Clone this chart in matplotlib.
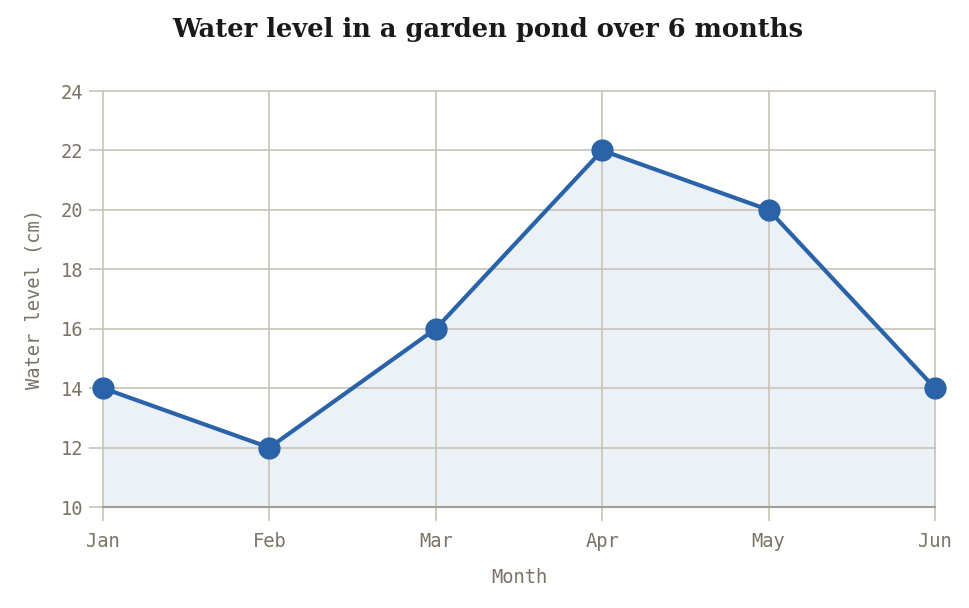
import matplotlib
matplotlib.use("Agg")
import matplotlib.pyplot as plt

months = ["Jan", "Feb", "Mar", "Apr", "May", "Jun"]
water_level = [14, 12, 16, 22, 20, 14]
y_ticks = [10, 12, 14, 16, 18, 20, 22, 24]

line_color = "#2a63a8"
fill_color = "#ecf1f6"
grid_color = "#c8c3ba"
text_color = "#7a7367"
mono = "DejaVu Sans Mono"

fig = plt.figure(figsize=(9.7, 6.08), dpi=100)
ax = fig.add_axes([0.1062, 0.1661, 0.8577, 0.6842])

x = list(range(len(months)))
ax.fill_between(x, water_level, 10, color=fill_color, zorder=0.2)
ax.plot(x, water_level, color=line_color, linewidth=3, marker="o",
        markersize=15, zorder=3, clip_on=False)

ax.set_xlim(0, len(months) - 1)
ax.set_ylim(10, 24)
ax.set_xticks(x)
ax.set_xticklabels(months)
ax.set_yticks(y_ticks)

ax.grid(True, color=grid_color, linewidth=1.2)
ax.set_axisbelow(True)
for gl in ax.get_xgridlines() + ax.get_ygridlines():
    gl.set_clip_on(False)
for side in ["top", "right", "left"]:
    ax.spines[side].set_visible(False)
ax.spines["bottom"].set_color("#a39e95")
ax.spines["bottom"].set_linewidth(1.5)

ax.tick_params(axis="both", length=10, width=1.2, color=grid_color,
               labelcolor=text_color, labelsize=13.5)
ax.tick_params(axis="x", pad=8)
ax.tick_params(axis="y", pad=4)
for lbl in ax.get_xticklabels() + ax.get_yticklabels():
    lbl.set_fontfamily(mono)

ax.set_xlabel("Month", fontfamily=mono, fontsize=13.5, color=text_color, labelpad=12)
ax.set_ylabel("Water level (cm)", fontfamily=mono, fontsize=13.5, color=text_color, labelpad=13)

fig.suptitle("Water level in a garden pond over 6 months", x=0.503, y=0.972,
             fontfamily="DejaVu Serif", fontweight="bold", fontsize=18.5, color="#1a1a1a")

fig.savefig("out.png", dpi=100, facecolor="white")
